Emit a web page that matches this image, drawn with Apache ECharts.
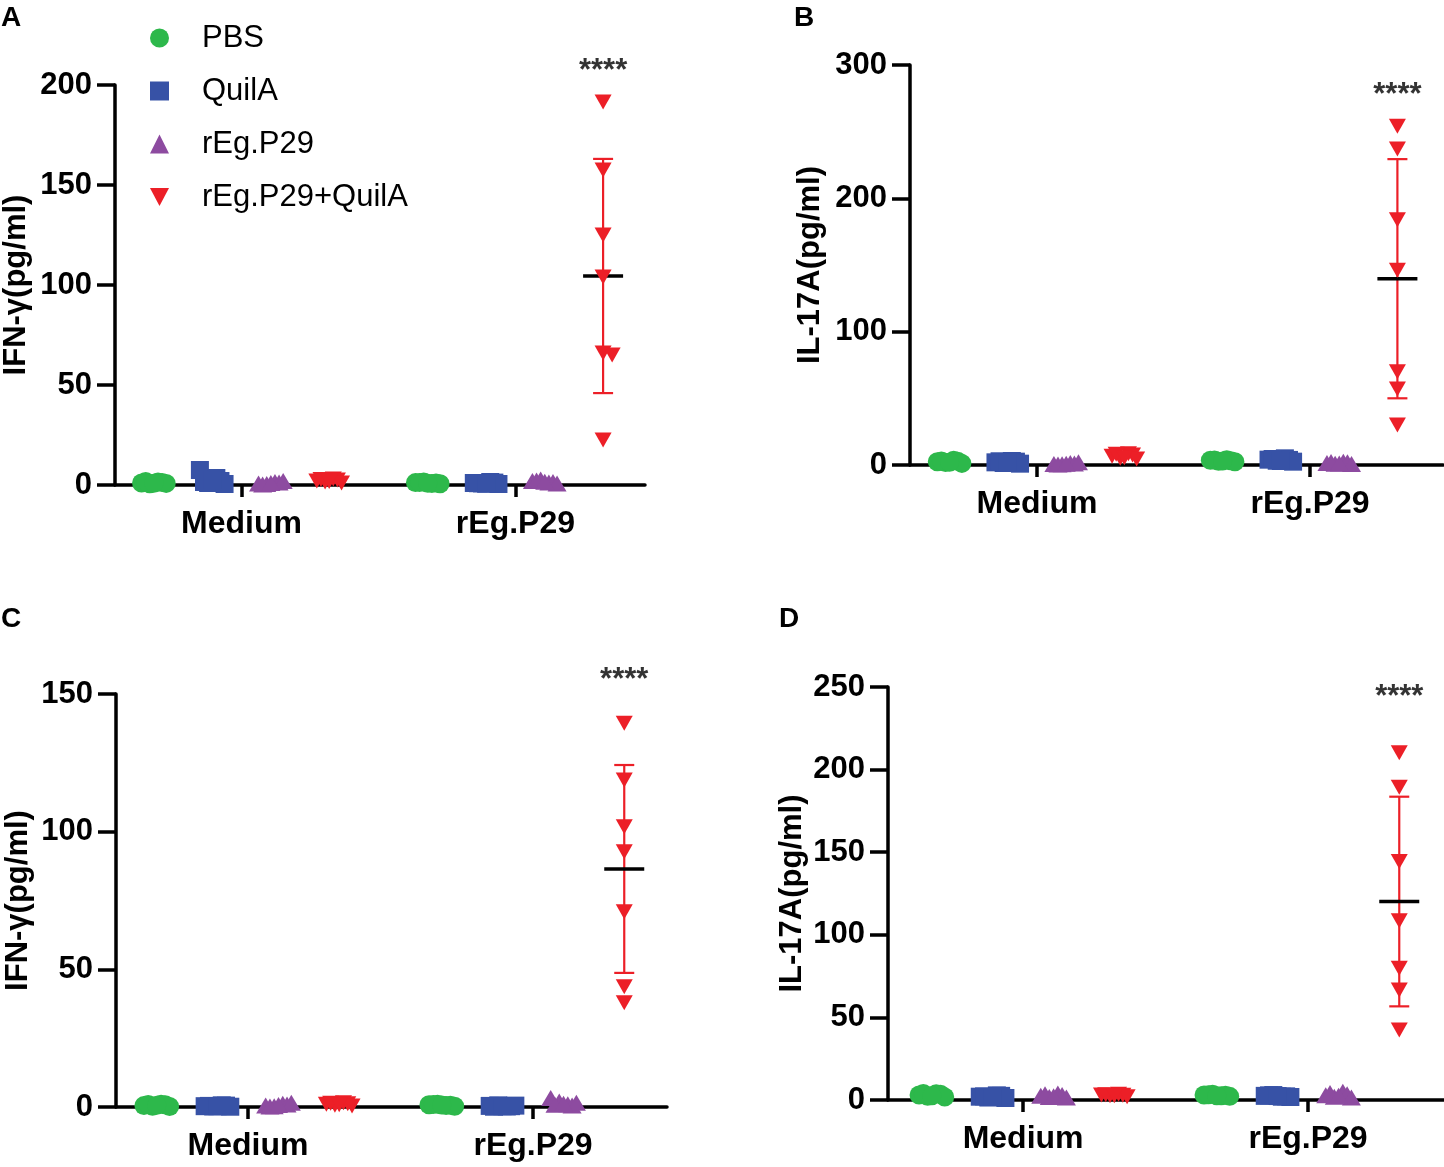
<!DOCTYPE html>
<html><head><meta charset="utf-8">
<script src="https://cdn.jsdelivr.net/npm/echarts@6/dist/echarts.min.js"></script>
<style>html,body{margin:0;padding:0;background:#fff}#c{width:1444px;height:1167px}</style>
</head><body><div id="c"></div><script>
// ---- data ----
const categories = ['Medium', 'rEg.P29'];
const groupNames = ['PBS', 'QuilA', 'rEg.P29', 'rEg.P29+QuilA'];
const groupColors = ['#2db84b', '#3752a6', '#8d4ba0', '#ec1f27'];
const groupOffset = [-0.32, -0.107, 0.107, 0.32];
const clusterJitter = [-0.045, 0.015, -0.015, 0.03, 0.045, -0.03, 0];

// Panel A: IFN-γ  (each: [Medium values], [rEg.P29 values])
const A_PBS   = [[1.0, 1.5, 0.6, 1.2, 0.8, 1.8, 0.9], [1.2, 0.8, 1.5, 1.0, 0.6, 1.3, 0.9]];
const A_QuilA = [[7.5, 3.5, 1.0, 2.0, 0.5, 1.5, 2.5], [1.0, 1.5, 0.8, 1.2, 0.5, 0.9, 0.6]];
const A_P29   = [[0.8, 1.5, 0.5, 1.2, 2.0, 0.3, 1.0], [2.0, 1.2, 2.8, 1.5, 0.8, 2.2, 1.6]];
const A_P29Q  = [[2.0, 3.0, 1.5, 2.5, 1.0, 2.8, 1.8], [191.5, 157.5, 125, 104, 66, 65, 22.5]];
const A_stimJitter = [0, 0, 0, 0, 0, 0.033, 0];

// Panel B: IL-17A
const B_PBS   = [[2.5, 3.5, 1.8, 2.8, 1.2, 3.0, 2.0], [3.5, 4.0, 2.8, 3.2, 2.5, 3.8, 3.0]];
const B_QuilA = [[2.0, 3.0, 1.5, 2.5, 1.0, 2.8, 1.8], [4.0, 5.0, 3.2, 3.8, 2.5, 4.5, 3.0]];
const B_P29   = [[0.8, 1.5, 0.5, 1.2, 2.0, 0.3, 1.0], [1.5, 2.5, 1.0, 2.0, 0.8, 2.2, 1.2]];
const B_P29Q  = [[6.5, 8.5, 5.0, 7.5, 4.5, 8.0, 5.5], [254, 237, 184, 146, 70, 57, 30]];
const B_stimJitter = [0, 0, 0, 0, 0, 0, 0];

// Panel C: IFN-γ
const C_PBS   = [[0.5, 1.0, 0.3, 0.8, 0.2, 0.9, 0.6], [0.8, 0.5, 1.0, 0.6, 0.3, 0.9, 0.7]];
const C_QuilA = [[0.3, 0.6, 0.2, 0.5, 0.1, 0.4, 0.3], [0.4, 0.2, 0.6, 0.3, 0.5, 0.1, 0.3]];
const C_P29   = [[0.5, 1.2, 0.3, 0.9, 1.5, 0.2, 0.7], [3.3, 1.0, 2.0, 0.5, 1.5, 0.8, 1.2]];
const C_P29Q  = [[1.0, 1.5, 0.6, 1.2, 0.4, 1.4, 0.8], [139.4, 118.8, 101.8, 92.7, 70.9, 43.7, 37.9]];
const C_stimJitter = [0, 0, 0, 0, 0, 0, 0];

// Panel D: IL-17A
const D_PBS   = [[3.0, 3.8, 2.2, 3.5, 1.8, 4.0, 2.6], [3.0, 2.5, 3.5, 2.8, 2.2, 3.2, 2.6]];
const D_QuilA = [[2.0, 2.8, 1.5, 2.5, 1.2, 2.2, 1.8], [2.5, 2.0, 3.0, 2.2, 1.8, 2.8, 2.4]];
const D_P29   = [[2.5, 4.0, 1.8, 3.0, 1.5, 3.5, 2.2], [2.8, 5.0, 2.0, 3.5, 1.5, 4.2, 2.5]];
const D_P29Q  = [[3.0, 3.5, 2.5, 2.8, 2.0, 3.2, 2.6], [210.2, 189.3, 144.3, 108.5, 79.7, 66.6, 42.4]];
const D_stimJitter = [0, 0, 0, 0, 0, 0, 0];

const yTitles = ['IFN-γ(pg/ml)', 'IL-17A(pg/ml)', 'IFN-γ(pg/ml)', 'IL-17A(pg/ml)'];
const yMax = [200, 300, 150, 250];
const yInterval = [50, 100, 50, 50];
const sigText = '****';
const sigY = [207, 277, 155, 243.5];
const panelLetters = ['A', 'B', 'C', 'D'];

// ---- layout ----
const panels = [
  { groups: [A_PBS, A_QuilA, A_P29, A_P29Q], stimJitter: A_stimJitter,
    grid: { left: 113, top: 85, width: 532, height: 400 }, xMin: 0.538, xMax: 2.473, nameGap: 83, letter: [1, 4] },
  { groups: [B_PBS, B_QuilA, B_P29, B_P29Q], stimJitter: B_stimJitter,
    grid: { left: 910, top: 65, width: 533, height: 400 }, xMin: 0.535, xMax: 2.487, nameGap: 84, letter: [794, 4] },
  { groups: [C_PBS, C_QuilA, C_P29, C_P29Q], stimJitter: C_stimJitter,
    grid: { left: 116, top: 694, width: 551, height: 413 }, xMin: 0.537, xMax: 2.47, nameGap: 82, letter: [1, 605] },
  { groups: [D_PBS, D_QuilA, D_P29, D_P29Q], stimJitter: D_stimJitter,
    grid: { left: 888, top: 687, width: 556, height: 413 }, xMin: 0.526, xMax: 2.477, nameGap: 80, letter: [779, 605] }
];

const downTri = 'path://M0,0 L16,0 L8,15 Z';
const symbols = ['circle', 'rect', 'triangle', downTri];
const symbolSizes = [[19, 19], [18, 18], [19, 16], [17, 15]];
const sansBold = "'Liberation Sans', Arial, sans-serif";

const grids = [], xAxes = [], yAxes = [], series = [], graphics = [];

panels.forEach((p, i) => {
  grids.push(Object.assign({ containLabel: false }, p.grid));
  xAxes.push({
    gridIndex: i, type: 'value', min: p.xMin, max: p.xMax,
    axisLine: { show: true, onZero: false, lineStyle: { color: '#000', width: 3.5 } },
    axisTick: { show: true, customValues: [1, 2], length: 12, lineStyle: { color: '#000', width: 3.5 } },
    axisLabel: { show: true, customValues: [1, 2], formatter: v => categories[Math.round(v) - 1] || '',
      fontSize: 32, fontWeight: 'bold', color: '#000', margin: 23, fontFamily: sansBold },
    splitLine: { show: false }
  });
  yAxes.push({
    gridIndex: i, type: 'value', min: 0, max: yMax[i], interval: yInterval[i],
    axisLine: { show: true, lineStyle: { color: '#000', width: 3.5 } },
    axisTick: { show: true, length: 18, lineStyle: { color: '#000', width: 3.5 } },
    axisLabel: { fontSize: 31, fontWeight: 'bold', color: '#000', margin: 23, fontFamily: sansBold },
    splitLine: { show: false },
    name: yTitles[i], nameLocation: 'middle', nameGap: p.nameGap,
    nameTextStyle: { fontSize: 31, fontWeight: 'bold', color: '#000', fontFamily: sansBold }
  });

  // error bar (mean ± SD) and mean line for stimulated rEg.P29+QuilA group
  const stim = p.groups[3][1];
  const mean = stim.reduce((a, b) => a + b, 0) / stim.length;
  const sd = Math.sqrt(stim.reduce((a, b) => a + (b - mean) * (b - mean), 0) / (stim.length - 1));
  const xc = 2 + groupOffset[3];
  series.push({
    type: 'custom', xAxisIndex: i, yAxisIndex: i, z: 1, silent: true,
    data: [[xc, mean, mean - sd, mean + sd]],
    renderItem: (params, api) => {
      const top = api.coord([api.value(0), api.value(3)]);
      const bot = api.coord([api.value(0), api.value(2)]);
      const mid = api.coord([api.value(0), api.value(1)]);
      const red = { stroke: '#ec1f27', lineWidth: 2.2 };
      return { type: 'group', children: [
        { type: 'line', shape: { x1: top[0], y1: top[1], x2: bot[0], y2: bot[1] }, style: red },
        { type: 'line', shape: { x1: top[0] - 10, y1: top[1], x2: top[0] + 10, y2: top[1] }, style: red },
        { type: 'line', shape: { x1: bot[0] - 10, y1: bot[1], x2: bot[0] + 10, y2: bot[1] }, style: red },
        { type: 'line', shape: { x1: mid[0] - 20, y1: mid[1], x2: mid[0] + 20, y2: mid[1] }, style: { stroke: '#000', lineWidth: 3.5 } }
      ] };
    }
  });

  p.groups.forEach((g, gi) => {
    const data = [];
    g.forEach((vals, ci) => {
      vals.forEach((v, k) => {
        let jit = clusterJitter[k];
        if (gi === 3 && ci === 1) jit = p.stimJitter[k];
        data.push([ci + 1 + groupOffset[gi] + jit, v]);
      });
    });
    series.push({
      type: 'scatter', name: groupNames[gi], xAxisIndex: i, yAxisIndex: i, z: 3, clip: false,
      symbol: symbols[gi], symbolSize: symbolSizes[gi],
      itemStyle: { color: groupColors[gi], opacity: 1 },
      data: data
    });
  });

  series.push({
    type: 'scatter', xAxisIndex: i, yAxisIndex: i, z: 4, clip: false, symbolSize: 1,
    itemStyle: { color: 'rgba(0,0,0,0)' }, silent: true,
    label: { show: true, position: 'inside', formatter: sigText, fontSize: 31, fontWeight: 'bold',
      color: '#000', fontFamily: sansBold },
    data: [[xc, sigY[i]]]
  });

  graphics.push({ type: 'text', left: p.letter[0], top: p.letter[1],
    style: { text: panelLetters[i], fontSize: 28, fontWeight: 'bold', fill: '#000', fontFamily: sansBold } });
});

const chart = echarts.init(document.getElementById('c'), null, { renderer: 'canvas' });
chart.setOption({
  backgroundColor: '#fff',
  animation: false,
  grid: grids, xAxis: xAxes, yAxis: yAxes, series: series, graphic: graphics,
  legend: {
    orient: 'vertical', left: 145, top: 16, itemGap: 19, itemWidth: 19, itemHeight: 19,
    data: [
      { name: 'PBS', icon: 'circle' },
      { name: 'QuilA', icon: 'rect' },
      { name: 'rEg.P29', icon: 'triangle' },
      { name: 'rEg.P29+QuilA', icon: downTri }
    ],
    textStyle: { fontSize: 31, color: '#000', lineHeight: 34, padding: [0, 0, 0, 28], fontFamily: sansBold },
    selectedMode: false
  }
});
</script></body></html>
